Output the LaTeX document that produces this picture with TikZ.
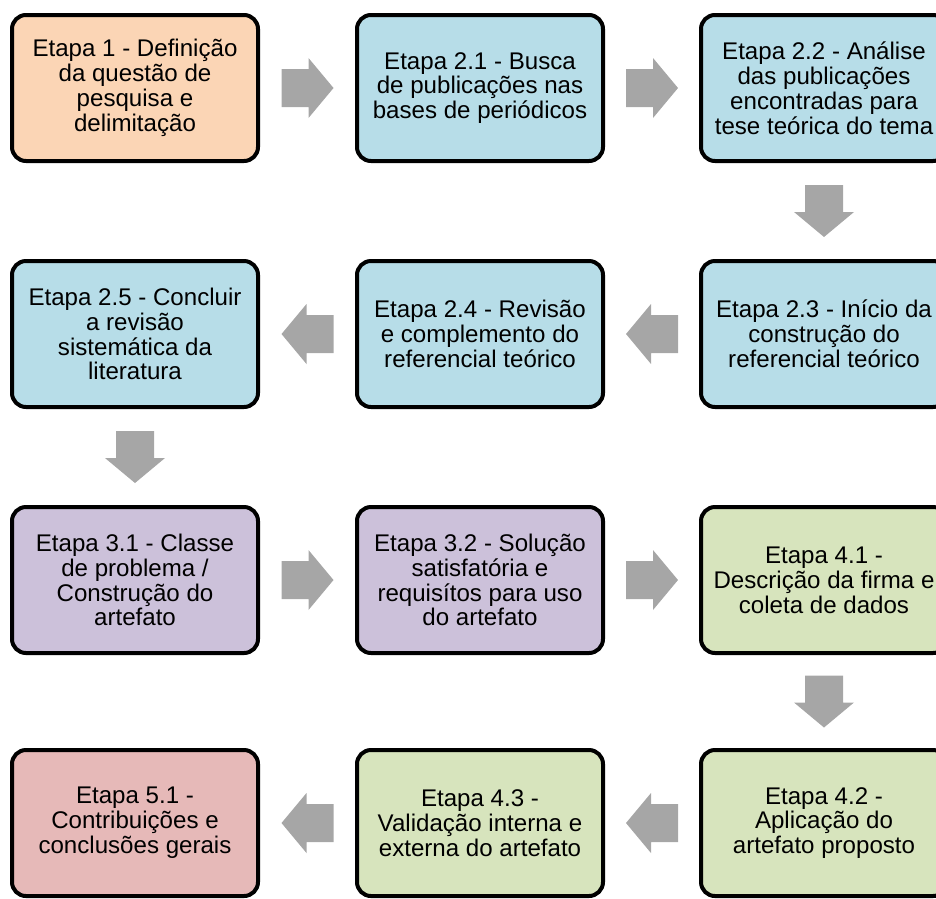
\documentclass[tikz,border=0pt]{standalone}
\usepackage{fontspec}
\setmainfont{Liberation Sans}
\usetikzlibrary{calc}
\definecolor{orangefill}{HTML}{FBD5B5}
\definecolor{bluefill}{HTML}{B7DDE8}
\definecolor{purplefill}{HTML}{CCC1DA}
\definecolor{greenfill}{HTML}{D7E4BD}
\definecolor{pinkfill}{HTML}{E6B9B8}
\definecolor{arrowgray}{HTML}{A6A6A6}
\tikzset{
  stagebox/.style={draw=black, line width=4pt, rounded corners=14pt,
    minimum width=246pt, minimum height=146pt, align=center, inner sep=0pt,
    font=\fontsize{24.1}{24.9}\selectfont},
}
\newcommand\blockarrow[2]{%
  \fill[arrowgray, shift={(#1)}, rotate=#2]
    (-26,-19) -- (1,-19) -- (1,-30) -- (26,0) -- (1,30) -- (1,19) -- (-26,19) -- cycle;}
\begin{document}
\begin{tikzpicture}[x=1pt,y=-1pt]
\useasboundingbox (0,0) rectangle (936,898);
\clip (0,0) rectangle (936,898);
\node[stagebox, fill=orangefill] (e1) at (135,88) {Etapa 1 - Definição\\da questão de\\pesquisa e\\delimitação};
\node[stagebox, fill=bluefill] (e21) at (480,88) {Etapa 2.1 - Busca\\de publicações nas\\bases de periódicos};
\node[stagebox, fill=bluefill] (e22) at (824,88) {Etapa 2.2 - Análise\\das publicações\\encontradas para\\tese teórica do tema};
\node[stagebox, fill=bluefill] (e23) at (824,334) {Etapa 2.3 - Início da\\construção do\\referencial teórico};
\node[stagebox, fill=bluefill] (e24) at (480,334) {Etapa 2.4 - Revisão\\e complemento do\\referencial teórico};
\node[stagebox, fill=bluefill] (e25) at (135,334) {Etapa 2.5 - Concluir\\a revisão\\sistemática da\\literatura};
\node[stagebox, fill=purplefill] (e31) at (135,580) {Etapa 3.1 - Classe\\de problema /\\Construção do\\artefato};
\node[stagebox, fill=purplefill] (e32) at (480,580) {Etapa 3.2 - Solução\\satisfatória e\\requisítos para uso\\do artefato};
\node[stagebox, fill=greenfill] (e41) at (824,580) {Etapa 4.1 -\\Descrição da firma e\\coleta de dados};
\node[stagebox, fill=greenfill] (e42) at (824,823) {Etapa 4.2 -\\Aplicação do\\artefato proposto};
\node[stagebox, fill=greenfill] (e43) at (480,823) {Etapa 4.3 -\\Validação interna e\\externa do artefato};
\node[stagebox, fill=pinkfill] (e51) at (135,823) {Etapa 5.1 -\\Contribuições e\\conclusões gerais};
% connectors (block arrows at midpoints between named nodes)
\coordinate (a1) at ($(e1.east)!0.5!(e21.west)$);
\coordinate (a2) at ($(e21.east)!0.5!(e22.west)$);
\coordinate (a3) at ($(e22.south)!0.5!(e23.north)$);
\coordinate (a4) at ($(e23.west)!0.5!(e24.east)$);
\coordinate (a5) at ($(e24.west)!0.5!(e25.east)$);
\coordinate (a6) at ($(e25.south)!0.5!(e31.north)$);
\coordinate (a7) at ($(e31.east)!0.5!(e32.west)$);
\coordinate (a8) at ($(e32.east)!0.5!(e41.west)$);
\coordinate (a9) at ($(e41.south)!0.5!(e42.north)$);
\coordinate (a10) at ($(e42.west)!0.5!(e43.east)$);
\coordinate (a11) at ($(e43.west)!0.5!(e51.east)$);
\blockarrow{a1}{0}
\blockarrow{a2}{0}
\blockarrow{a3}{-90}
\blockarrow{a4}{180}
\blockarrow{a5}{180}
\blockarrow{a6}{-90}
\blockarrow{a7}{0}
\blockarrow{a8}{0}
\blockarrow{a9}{-90}
\blockarrow{a10}{180}
\blockarrow{a11}{180}
\end{tikzpicture}
\end{document}
